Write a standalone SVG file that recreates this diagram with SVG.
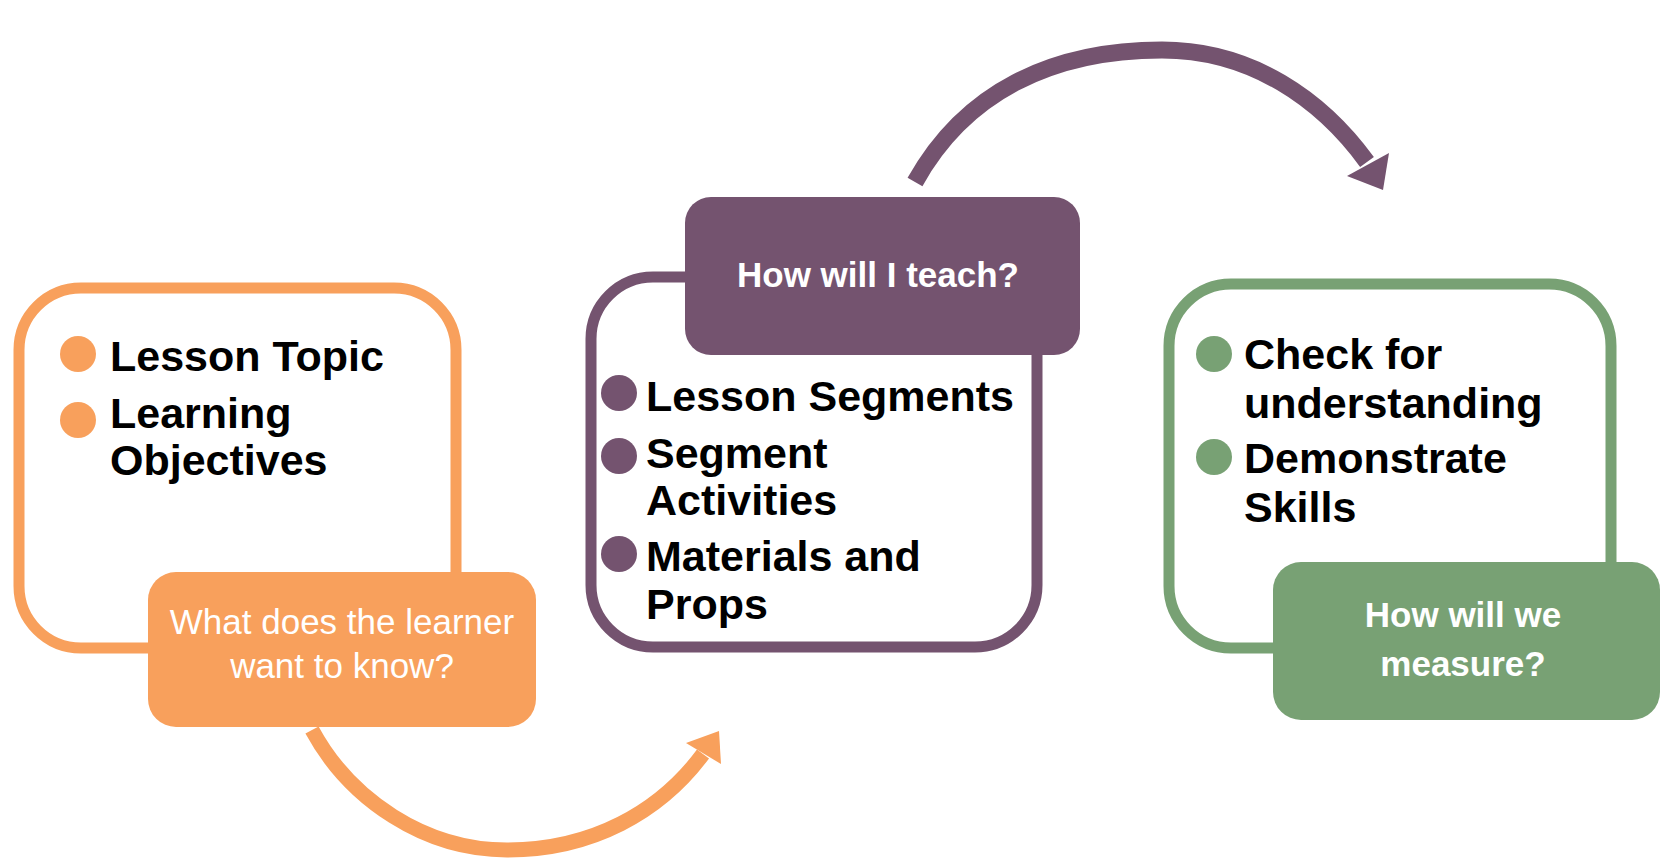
<svg xmlns="http://www.w3.org/2000/svg" width="1665" height="859" viewBox="0 0 1665 859">
<defs>
<style>
.item{font-family:"Liberation Sans",Arial,sans-serif;font-weight:bold;font-size:43px;fill:#000}
.lab{font-family:"Liberation Sans",Arial,sans-serif;font-size:35px;fill:#fff;text-anchor:middle}
.labb{font-family:"Liberation Sans",Arial,sans-serif;font-weight:bold;font-size:35px;fill:#fff;text-anchor:middle}
.or{fill:#F8A05C}.pu{fill:#74536F}.gr{fill:#78A174}
.box{fill:#fff;stroke-width:11}
</style>
</defs>
<rect width="1665" height="859" fill="#fff"/>
<g id="connectors">
<path d="M 312 730 C 350 800, 425 850, 507 850 C 592 850, 660 812, 703 754" fill="none" stroke="#F8A05C" stroke-width="15"/>
<polygon points="719,731 686,743 721,764" fill="#F8A05C"/>
<path d="M 915 182 C 965 92, 1052 50, 1162 50 C 1252 50, 1322 100, 1367 162" fill="none" stroke="#74536F" stroke-width="17"/>
<polygon points="1383,190 1347,176 1389,153" fill="#74536F"/>
</g>
<g id="node-know">
<rect class="box" x="19" y="288" width="437" height="360" rx="62" stroke="#F8A05C"/>
<circle class="or" cx="78" cy="354" r="18"/>
<circle class="or" cx="78" cy="420" r="18"/>
<text class="item" x="110" y="371">Lesson Topic</text>
<text class="item" x="110" y="428">Learning</text>
<text class="item" x="110" y="475">Objectives</text>
<rect class="or" x="148" y="572" width="388" height="155" rx="28"/>
<text class="lab" x="342" y="634">What does the learner</text>
<text class="lab" x="342" y="678">want to know?</text>
</g>
<g id="node-teach">
<rect class="box" x="591" y="277" width="446" height="370" rx="62" stroke="#74536F"/>
<rect class="pu" x="685" y="197" width="395" height="158" rx="26"/>
<text class="labb" x="878" y="287">How will I teach?</text>
<circle class="pu" cx="619" cy="393" r="18"/>
<circle class="pu" cx="619" cy="456" r="18"/>
<circle class="pu" cx="619" cy="554" r="18"/>
<text class="item" x="646" y="411">Lesson Segments</text>
<text class="item" x="646" y="468">Segment</text>
<text class="item" x="646" y="515">Activities</text>
<text class="item" x="646" y="571">Materials and</text>
<text class="item" x="646" y="619">Props</text>
</g>
<g id="node-measure">
<rect class="box" x="1169" y="284" width="442" height="364" rx="62" stroke="#78A174"/>
<circle class="gr" cx="1214" cy="354" r="18"/>
<circle class="gr" cx="1214" cy="457" r="18"/>
<text class="item" x="1244" y="369">Check for</text>
<text class="item" x="1244" y="418">understanding</text>
<text class="item" x="1244" y="473">Demonstrate</text>
<text class="item" x="1244" y="522">Skills</text>
<rect class="gr" x="1273" y="562" width="387" height="158" rx="28"/>
<text class="labb" x="1463" y="627">How will we</text>
<text class="labb" x="1463" y="676">measure?</text>
</g>
</svg>
